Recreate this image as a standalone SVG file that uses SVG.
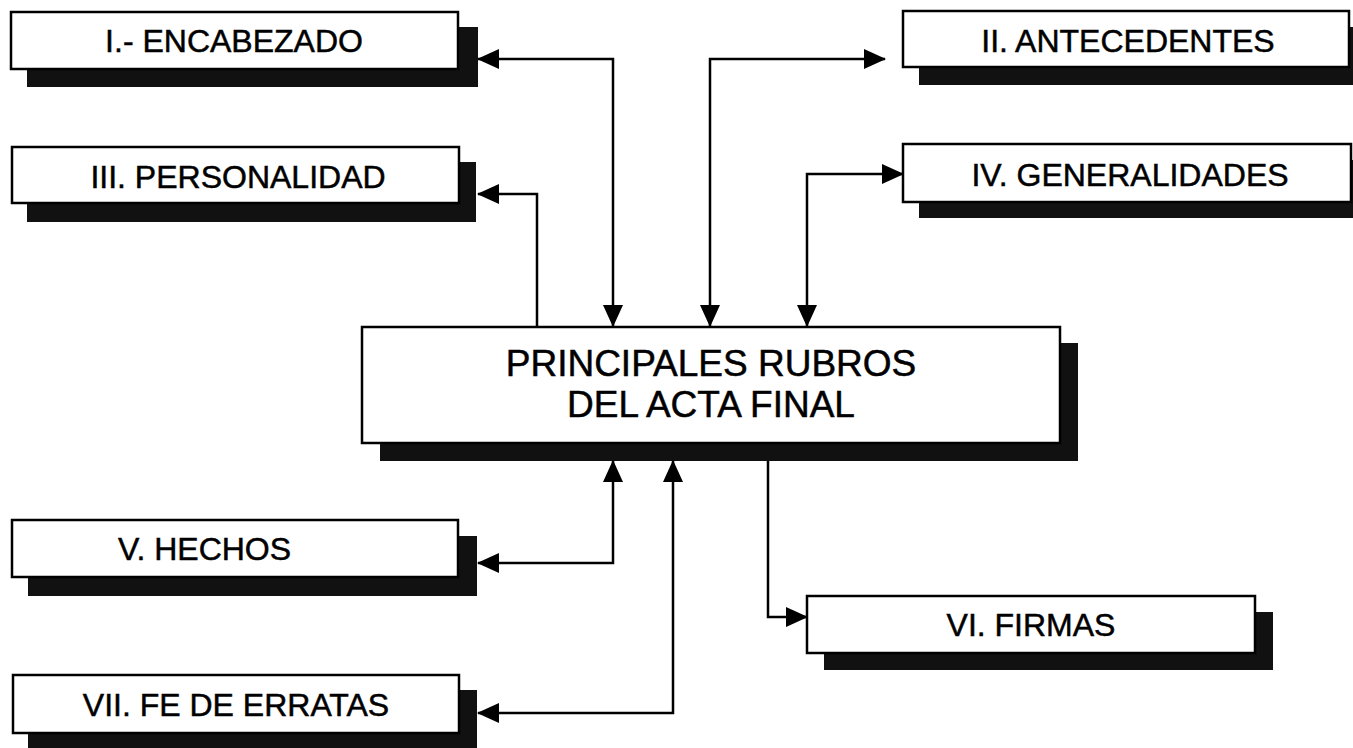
<svg xmlns="http://www.w3.org/2000/svg" width="1353" height="748" viewBox="0 0 1353 748">
<style>
.box{fill:#fff;stroke:#000;stroke-width:2.5}
.sh{fill:#111}
.t{font-family:"Liberation Sans",Arial,sans-serif;font-size:32px;fill:#000;stroke:#000;stroke-width:0.5;text-anchor:middle}
.tc{font-family:"Liberation Sans",Arial,sans-serif;font-size:37px;fill:#000;stroke:#000;stroke-width:0.5;text-anchor:middle}
.c{fill:none;stroke:#000;stroke-width:2.5}
</style>
<defs>
<marker id="ah" markerUnits="userSpaceOnUse" markerWidth="22" markerHeight="22" refX="21" refY="10" orient="auto-start-reverse" viewBox="0 0 22 20">
<path d="M0,0 L22,10 L0,20 z" fill="#000"/>
</marker>
</defs>
<rect width="1353" height="748" fill="#fff"/>

<g id="n1">
<rect class="sh" x="27" y="27" width="451" height="60"/>
<rect class="box" x="11" y="12" width="447" height="57"/>
<text class="t" x="234" y="52">I.- ENCABEZADO</text>
</g>
<g id="n2">
<rect class="sh" x="919" y="27" width="440" height="58"/>
<rect class="box" x="903" y="11" width="446" height="56"/>
<text class="t" x="1128" y="52">II. ANTECEDENTES</text>
</g>
<g id="n3">
<rect class="sh" x="27" y="162" width="449" height="60"/>
<rect class="box" x="12" y="147" width="447" height="56"/>
<text class="t" x="238" y="188">III. PERSONALIDAD</text>
</g>
<g id="n4">
<rect class="sh" x="919" y="160" width="440" height="58"/>
<rect class="box" x="903" y="144" width="448" height="58"/>
<text class="t" x="1130" y="186">IV. GENERALIDADES</text>
</g>
<g id="center">
<rect class="sh" x="380" y="343" width="698" height="118"/>
<rect class="box" x="362" y="327" width="698" height="116"/>
<text class="tc" x="711" y="376">PRINCIPALES RUBROS</text>
<text class="tc" x="711" y="417">DEL ACTA FINAL</text>
</g>
<g id="n5">
<rect class="sh" x="28" y="536" width="449" height="60"/>
<rect class="box" x="12" y="520" width="446" height="57"/>
<text class="t" x="118" y="560" style="text-anchor:start">V. HECHOS</text>
</g>
<g id="n6">
<rect class="sh" x="824" y="612" width="449" height="58"/>
<rect class="box" x="807" y="596" width="448" height="57"/>
<text class="t" x="1031" y="636">VI. FIRMAS</text>
</g>
<g id="n7">
<rect class="sh" x="28" y="690" width="449" height="70"/>
<rect class="box" x="13" y="675" width="446" height="58"/>
<text class="t" x="236" y="716">VII. FE DE ERRATAS</text>
</g>

<g id="connectors">
<path class="c" d="M613,326 V59 H478" marker-start="url(#ah)" marker-end="url(#ah)"/>
<path class="c" d="M710,326 V59 H885" marker-start="url(#ah)" marker-end="url(#ah)"/>
<path class="c" d="M537,327 V194 H478" marker-end="url(#ah)"/>
<path class="c" d="M807,326 V174 H903" marker-start="url(#ah)" marker-end="url(#ah)"/>
<path class="c" d="M613,461 V563 H478" marker-start="url(#ah)" marker-end="url(#ah)"/>
<path class="c" d="M673,461 V713 H478" marker-start="url(#ah)" marker-end="url(#ah)"/>
<path class="c" d="M768,461 V617 H807" marker-end="url(#ah)"/>
</g>
</svg>
